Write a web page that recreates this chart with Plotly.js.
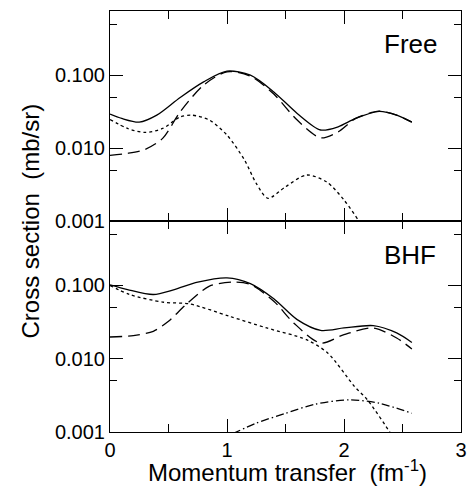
<!DOCTYPE html>
<html><head><meta charset="utf-8">
<script src="https://cdn.plot.ly/plotly-3.0.1.min.js"></script>
<style>
body{margin:0;background:#fff}
.p{position:absolute;left:0;width:468px}
#base{top:0;height:487px}
#freeMain,#freeMinor{top:0;height:233px}
#bhfMain,#bhfMinor{top:211px;height:276px}
</style>
</head><body>
<div class="p" id="base"></div>
<div class="p" id="bhfMain"></div>
<div class="p" id="bhfMinor"></div>
<div class="p" id="freeMain"></div>
<div class="p" id="freeMinor"></div>
<script>
// Free panel
var freeTotalX = [0, 0.1, 0.25, 0.4, 0.6, 0.8, 1.0, 1.2, 1.4, 1.6, 1.8, 1.95, 2.1, 2.3, 2.45, 2.58];
var freeTotalY = [0.0292, 0.0255, 0.0227, 0.0283, 0.0495, 0.081, 0.1135, 0.100, 0.059, 0.0299, 0.0177, 0.0196, 0.0255, 0.0318, 0.0283, 0.0227];
var freeDashX = [0, 0.15, 0.3, 0.45, 0.6, 0.8, 1.0, 1.2, 1.4, 1.6, 1.8, 1.95, 2.1, 2.3, 2.45, 2.58];
var freeDashY = [0.00794, 0.00846, 0.0096, 0.0136, 0.0314, 0.073, 0.111, 0.097, 0.055, 0.0242, 0.0138, 0.0167, 0.0255, 0.0321, 0.0283, 0.0227];
var freeDotX = [0, 0.15, 0.3, 0.45, 0.6, 0.7, 0.85, 1.0, 1.15, 1.25, 1.35, 1.5, 1.68, 1.85, 2.0, 2.13, 2.16];
var freeDotY = [0.0247, 0.0186, 0.0164, 0.0186, 0.0268, 0.0283, 0.0242, 0.01507, 0.00685, 0.00328, 0.00205, 0.00295, 0.00427, 0.00345, 0.00194, 0.00098, 0.0008];
// BHF panel
var bhfTotalX = [0, 0.15, 0.37, 0.55, 0.75, 1.0, 1.2, 1.4, 1.6, 1.8, 2.0, 2.25, 2.45, 2.58];
var bhfTotalY = [0.102, 0.088, 0.0753, 0.088, 0.111, 0.127, 0.106, 0.0658, 0.0342, 0.0244, 0.0263, 0.0283, 0.0225, 0.0167];
var bhfDashX = [0, 0.2, 0.37, 0.5, 0.65, 0.85, 1.05, 1.2, 1.4, 1.57, 1.8, 2.0, 2.25, 2.45, 2.58];
var bhfDashY = [0.0198, 0.0207, 0.0237, 0.0324, 0.055, 0.098, 0.111, 0.103, 0.061, 0.0308, 0.0164, 0.0213, 0.0263, 0.0192, 0.0136];
var bhfDotX = [0, 0.17, 0.46, 0.68, 1.02, 1.34, 1.68, 1.86, 2.09, 2.2, 2.4, 2.43];
var bhfDotY = [0.1, 0.075, 0.059, 0.056, 0.038, 0.0263, 0.0182, 0.0120, 0.00418, 0.00275, 0.00095, 0.0008];
var bhfDashDotX = [1.05, 1.25, 1.5, 1.75, 2.05, 2.3, 2.58];
var bhfDashDotY = [0.00095, 0.00132, 0.0018, 0.00239, 0.00275, 0.00247, 0.0018];

var yTickVals = [0.001, 0.01, 0.1];
var yTickText = ['0.001', '0.010', '0.100'];
var yMinorVals = [0.005, 0.05, 0.5];
var xTickVals = [0, 1, 2, 3];
var xTickText = ['0', '1', '2', '3'];
var xMinorVals = [0.5, 1.5, 2.5];
var panelLabels = ['Free', 'BHF'];

var F = 'Liberation Sans';
var CLEAR = 'rgba(0,0,0,0)';
var LONG = '12px,6px', DOT = '3px,3px', DD = '8px,3px,1.5px,3px';
var cfg = {displayModeBar: false};

function tr(x, y, dash) {
  return {x: x, y: y, mode: 'lines', type: 'scatter',
    line: {color: '#000', width: 1.3, dash: dash, shape: 'spline', smoothing: 0.8},
    hoverinfo: 'skip', showlegend: false};
}
function emptyTrace() { return {x: [], y: [], mode: 'lines', type: 'scatter', showlegend: false}; }

// one single-subplot layout per panel (full domain)
function panelLayout(h, t, b, xvals, xtext, xlen, showX, yvals, ytext, ylen, showY) {
  var xa = {range: [0, 3], showline: true, linecolor: '#000', linewidth: 1,
    mirror: 'allticks', ticks: 'inside', ticklen: xlen, tickwidth: 1, tickcolor: '#000',
    tickmode: 'array', tickvals: xvals, showticklabels: showX,
    showgrid: false, zeroline: false, tickfont: {family: F, size: 20, color: '#000'}};
  if (xtext) xa.ticktext = xtext;
  var ya = {type: 'log', range: [-3, -0.12], showline: true, linecolor: '#000', linewidth: 1,
    mirror: 'allticks', ticks: 'inside', ticklen: ylen, tickwidth: 1, tickcolor: '#000',
    tickmode: 'array', tickvals: yvals, showticklabels: showY,
    showgrid: false, zeroline: false, tickfont: {family: F, size: 20, color: '#000'}};
  if (ytext) ya.ticktext = ytext;
  return {width: 468, height: h, margin: {l: 110, r: 7, t: t, b: b},
    paper_bgcolor: CLEAR, plot_bgcolor: CLEAR, showlegend: false, xaxis: xa, yaxis: ya};
}

// base layer: white page with the shared axis titles
Plotly.newPlot('base', [emptyTrace()], {
  width: 468, height: 487, margin: {l: 110, r: 7, t: 11, b: 55},
  paper_bgcolor: '#fff', plot_bgcolor: '#fff', showlegend: false,
  xaxis: {visible: false, range: [0, 3]}, yaxis: {visible: false, range: [0, 1]},
  annotations: [
    {text: 'Cross section  (mb/sr)', xref: 'paper', yref: 'paper', x: (30 - 110) / 351, y: 0.5, xanchor: 'center', yanchor: 'middle', textangle: -90, showarrow: false, font: {family: F, size: 24, color: '#000'}},
    {text: 'Momentum transfer  (fm<sup>-1</sup>)', xref: 'paper', yref: 'paper', x: (287 - 110) / 351, y: (432 - 471) / 421, xanchor: 'center', yanchor: 'middle', showarrow: false, font: {family: F, size: 24, color: '#000'}}
  ]
}, cfg);

// BHF panel: plot area 221..432
var lb = panelLayout(276, 10, 55, xTickVals, xTickText, 13, true, yTickVals, yTickText, 13, true);
lb.annotations = [{text: panelLabels[1], xref: 'paper', yref: 'paper', x: (410 - 110) / 351, y: (432 - 255) / 211,
  xanchor: 'center', yanchor: 'middle', showarrow: false, font: {family: F, size: 26, color: '#000'}}];
Plotly.newPlot('bhfMain', [
  tr(bhfTotalX, bhfTotalY, 'solid'),
  tr(bhfDashX, bhfDashY, LONG),
  tr(bhfDotX, bhfDotY, DOT),
  tr(bhfDashDotX, bhfDashDotY, DD)
], lb, cfg);
Plotly.newPlot('bhfMinor', [emptyTrace()],
  panelLayout(276, 10, 55, xMinorVals, null, 8, false, yMinorVals, null, 7, false), cfg);

// Free panel: plot area 11..221
var lt = panelLayout(233, 11, 12, xTickVals, xTickText, 13, false, yTickVals, yTickText, 13, true);
lt.annotations = [{text: panelLabels[0], xref: 'paper', yref: 'paper', x: (410 - 110) / 351, y: (221 - 44) / 210,
  xanchor: 'center', yanchor: 'middle', showarrow: false, font: {family: F, size: 26, color: '#000'}}];
Plotly.newPlot('freeMain', [
  tr(freeTotalX, freeTotalY, 'solid'),
  tr(freeDashX, freeDashY, LONG),
  tr(freeDotX, freeDotY, DOT)
], lt, cfg);
Plotly.newPlot('freeMinor', [emptyTrace()],
  panelLayout(233, 11, 12, xMinorVals, null, 8, false, yMinorVals, null, 7, false), cfg);
</script></body></html>
